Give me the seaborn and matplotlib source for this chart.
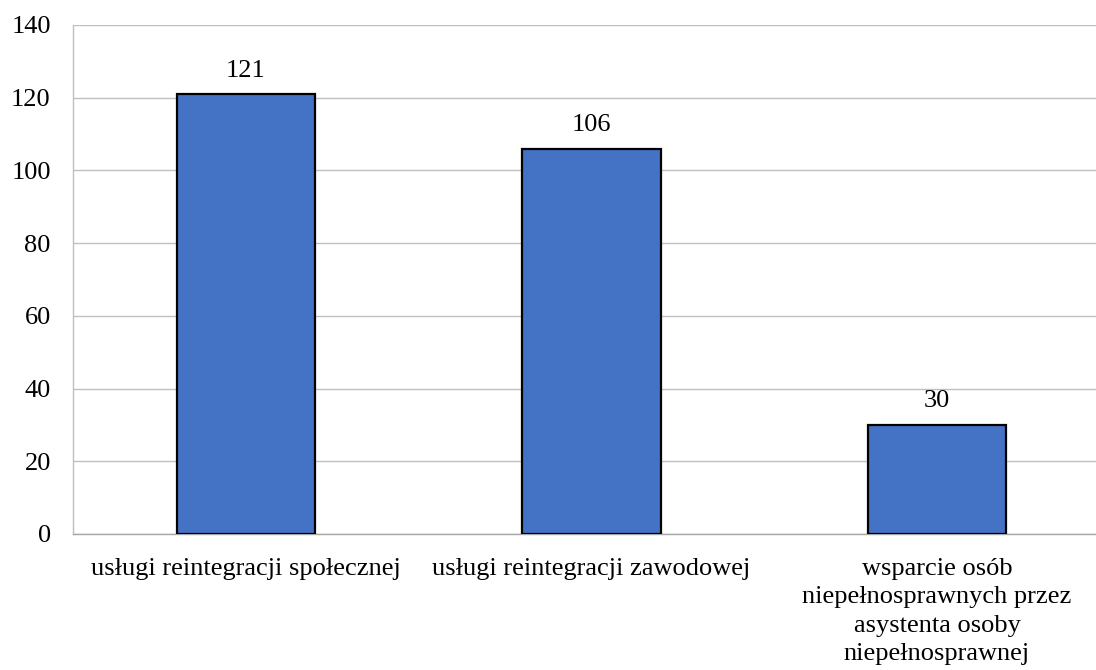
import pandas as pd
import seaborn as sns
import matplotlib.pyplot as plt

# data
categories = ["usługi reintegracji społecznej",
              "usługi reintegracji zawodowej",
              "wsparcie osób\nniepełnosprawnych przez\nasystenta osoby\nniepełnosprawnej"]
values = [121, 106, 30]
y_ticks = [0, 20, 40, 60, 80, 100, 120, 140]

df = pd.DataFrame({"kategoria": categories, "liczba": values})

sns.set_theme(style="white")
plt.rcParams["font.family"] = ["Liberation Serif", "DejaVu Serif"]

fig = plt.figure(figsize=(10.96, 6.70), dpi=100)
# plot area runs past the right edge like in the original screenshot
ax = fig.add_axes([0.0666, 0.203, 0.946, 0.7597])

sns.barplot(data=df, x="kategoria", y="liczba", color="#4472C4", width=0.4,
            edgecolor="black", linewidth=1.6, saturation=1, ax=ax, zorder=3)

ax.set_ylim(0, 140)
ax.set_yticks(y_ticks)
ax.yaxis.grid(True, color="#BFBFBF", linewidth=1, zorder=0)
ax.set_axisbelow(True)
ax.set_xlabel("")
ax.set_ylabel("")

for side in ["top", "right"]:
    ax.spines[side].set_visible(False)
ax.spines["left"].set_color("#BFBFBF")
ax.spines["bottom"].set_color("#A6A6A6")
ax.spines["left"].set_linewidth(1)
ax.spines["bottom"].set_linewidth(1)

ax.tick_params(axis="y", length=0, pad=16, labelsize=19, colors="black")
ax.tick_params(axis="x", length=0, pad=17, labelsize=19, colors="black")
for lbl in ax.get_xticklabels():
    lbl.set_linespacing(1.38)

ax.bar_label(ax.containers[0], padding=9, fontsize=19, color="black")

fig.savefig("out.png", dpi=100)
